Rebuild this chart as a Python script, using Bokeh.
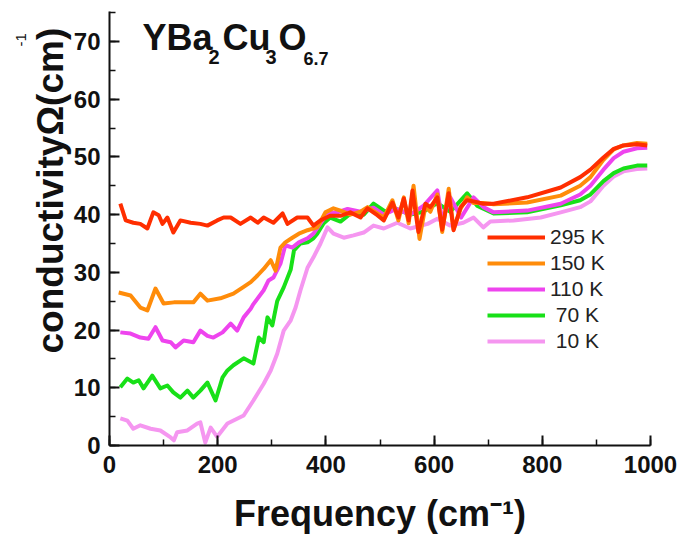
import math
from bokeh.plotting import figure
from bokeh.models import Range1d, Label, Legend, LegendItem, SingleIntervalTicker, Title
from bokeh.embed import file_html
from bokeh.resources import INLINE

# ---------------- data ----------------
freq_295 = [20, 30, 44, 57, 70, 81, 91, 98, 107, 118, 131, 150, 168, 181, 199, 211, 224, 242,
            261, 274, 285, 303, 320, 329, 347, 366, 377, 390, 408, 427, 445, 464, 477, 495,
            507, 523, 534, 544, 553, 560, 571, 584, 593, 606, 615, 627, 636, 649, 661, 673,
            691, 710, 772, 834, 870, 889, 913, 932, 950, 975, 994]
sigma_295 = [41.9, 39.0, 38.6, 38.4, 37.6, 40.4, 39.9, 38.4, 39.5, 36.9, 39.0, 38.6, 38.4, 38.1,
             39.0, 39.5, 39.5, 38.4, 39.5, 38.6, 39.5, 38.6, 40.2, 38.4, 39.5, 39.5, 38.1, 39.0,
             39.8, 39.8, 40.4, 39.5, 41.1, 39.9, 39.0, 42.1, 39.5, 42.8, 39.0, 44.2, 37.0, 41.9,
             41.3, 43.0, 37.4, 43.7, 37.3, 41.3, 42.5, 42.3, 41.9, 41.9, 43.0, 44.7, 46.5, 47.8,
             49.9, 51.4, 52.0, 52.2, 52.0]

freq_150 = [17, 39, 57, 70, 85, 100, 119, 137, 155, 168, 181, 205, 229, 248, 261, 274, 285, 298,
            307, 316, 325, 338, 350, 366, 384, 399, 414, 427, 445, 464, 477, 495, 507, 523, 534,
            544, 553, 562, 573, 584, 593, 606, 615, 627, 636, 649, 661, 673, 691, 710, 772, 834,
            870, 889, 913, 932, 950, 975, 994]
sigma_150 = [26.5, 26.0, 23.9, 23.4, 27.2, 24.6, 24.8, 24.8, 24.8, 26.3, 25.1, 25.5, 26.3, 27.5,
             28.3, 29.5, 30.6, 32.1, 30.3, 34.3, 35.2, 36.0, 36.7, 37.3, 37.8, 40.4, 41.1, 40.7,
             40.0, 40.5, 41.3, 40.2, 39.5, 42.5, 39.0, 43.0, 38.5, 45.0, 35.8, 41.5, 40.5, 43.5,
             37.0, 44.5, 37.5, 41.0, 43.0, 42.0, 42.0, 41.8, 42.1, 43.3, 45.0, 46.5, 49.5, 51.3,
             52.0, 52.4, 52.3]

freq_110 = [20, 39, 57, 72, 85, 98, 113, 122, 137, 155, 168, 181, 192, 209, 224, 236, 248, 261,
            266, 285, 294, 303, 316, 325, 338, 350, 366, 377, 390, 403, 421, 440, 464, 488, 507,
            530, 556, 580, 606, 615, 630, 650, 673, 691, 710, 772, 834, 870, 889, 913, 932, 950,
            975, 994]
sigma_110 = [19.6, 19.4, 18.7, 18.5, 20.5, 18.2, 17.9, 17.0, 18.2, 17.9, 19.9, 19.0, 18.7, 19.6,
             21.1, 19.9, 22.2, 23.7, 24.5, 26.9, 28.6, 29.1, 31.5, 34.7, 34.3, 35.2, 35.9, 36.7,
             38.5, 40.2, 40.4, 41.0, 40.5, 41.2, 40.0, 41.0, 40.0, 41.5, 44.2, 39.0, 43.0, 39.5,
             43.0, 41.3, 40.4, 40.7, 41.9, 43.5, 45.0, 47.8, 49.8, 50.9, 51.5, 51.6]

freq_70 = [20, 33, 44, 54, 63, 79, 94, 107, 118, 131, 144, 155, 168, 181, 196, 209, 218, 229,
           248, 266, 276, 285, 292, 301, 310, 322, 335, 341, 353, 366, 377, 384, 396, 408, 427,
           450, 470, 488, 510, 530, 556, 580, 606, 630, 661, 680, 710, 772, 834, 870, 889, 913,
           932, 950, 975, 994]
sigma_70 = [10.1, 11.6, 10.9, 11.3, 9.9, 12.1, 9.9, 10.4, 9.2, 8.3, 9.5, 8.3, 9.5, 10.9, 7.8,
            11.8, 13.0, 13.9, 15.1, 14.2, 18.7, 17.9, 22.2, 20.8, 25.0, 27.4, 30.5, 33.8, 35.0,
            35.2, 35.9, 36.7, 38.5, 39.5, 38.8, 40.5, 40.0, 41.9, 40.5, 41.0, 40.0, 40.5, 42.0,
            40.5, 43.7, 41.5, 40.2, 40.4, 41.6, 42.5, 43.5, 45.8, 47.2, 48.0, 48.5, 48.5]

freq_10 = [20, 33, 44, 57, 76, 94, 113, 119, 125, 144, 162, 168, 177, 187, 199, 218, 248, 266,
           285, 298, 310, 322, 335, 344, 353, 366, 377, 390, 403, 414, 433, 451, 470, 488, 507,
           532, 556, 588, 606, 630, 654, 673, 691, 704, 747, 797, 834, 870, 889, 913, 932, 950,
           975, 994]
sigma_10 = [4.7, 4.3, 2.9, 3.5, 2.9, 2.6, 1.4, 0.9, 2.3, 2.6, 3.8, 4.0, 0.5, 3.1, 1.5, 3.8, 5.2,
            7.8, 10.7, 13.0, 15.9, 19.9, 21.7, 23.9, 26.9, 30.8, 32.6, 35.0, 37.8, 36.7, 36.0,
            36.4, 36.9, 38.1, 37.6, 38.6, 37.6, 38.4, 39.3, 38.1, 38.6, 39.5, 37.8, 38.8, 39.0,
            39.5, 40.4, 41.3, 42.3, 45.0, 46.6, 47.5, 47.9, 48.0]

series_labels = ["295 K", "150 K", "110 K", "\u00a070 K", "\u00a010 K"]
x_ticks_interval = 200
y_ticks_interval = 10

# ---------------- figure ----------------
FONT = "Liberation Sans"
W, H = 685, 540
p = figure(width=W, height=H, output_backend="svg", toolbar_location=None,
           x_range=Range1d(0, 1000), y_range=Range1d(0, 75.2),
           min_border_left=109, min_border_right=35, min_border_top=11, min_border_bottom=95)
p.outline_line_color = None
p.xgrid.visible = False
p.ygrid.visible = False
p.background_fill_color = "white"
p.border_fill_color = "white"

for ax in (p.xaxis[0], p.yaxis[0]):
    ax.axis_line_width = 2
    ax.axis_line_color = "#111111"
    ax.major_tick_line_color = "#111111"
    ax.minor_tick_line_color = "#111111"
    ax.major_tick_line_width = 2
    ax.minor_tick_line_width = 1.5
    ax.major_tick_in = 10
    ax.major_tick_out = 0
    ax.minor_tick_in = 6
    ax.minor_tick_out = 0
    ax.major_label_text_font = FONT
    ax.major_label_text_font_style = "bold"
    ax.major_label_text_font_size = "24px"
    ax.major_label_text_color = "#111111"

p.xaxis[0].ticker = SingleIntervalTicker(interval=x_ticks_interval, num_minor_ticks=2)
p.yaxis[0].ticker = SingleIntervalTicker(interval=y_ticks_interval, num_minor_ticks=2)
p.xaxis[0].major_label_standoff = 10
p.yaxis[0].major_label_standoff = 9

# x axis title as the axis label (centred on the frame like the reference)
p.xaxis[0].axis_label = "Frequency (cm\u207b\u00b9)"
p.xaxis[0].axis_label_text_font = FONT
p.xaxis[0].axis_label_text_font_style = "bold"
p.xaxis[0].axis_label_text_font_size = "36px"
p.xaxis[0].axis_label_text_color = "#111111"
p.xaxis[0].axis_label_standoff = 17

colors = ["#FF2E00", "#FF8C0A", "#EE44EE", "#18E018", "#F596F0"]
widths = [4, 4, 4, 4, 4]
data = [(freq_295, sigma_295), (freq_150, sigma_150), (freq_110, sigma_110),
        (freq_70, sigma_70), (freq_10, sigma_10)]

renderers = [None] * 5
for i in [4, 3, 2, 1, 0]:
    fx, sy = data[i]
    renderers[i] = p.line(fx, sy, line_color=colors[i], line_width=widths[i], line_join="round")

legend = Legend(items=[LegendItem(label=series_labels[i], renderers=[renderers[i]]) for i in range(5)],
                location=(378, 92), orientation="vertical",
                border_line_alpha=0, background_fill_alpha=0, padding=0, margin=0,
                spacing=2, glyph_width=58, glyph_height=20, label_height=20, label_standoff=5,
                label_text_font=FONT, label_text_font_size="21px", label_text_color="#222222")
p.add_layout(legend)

# y axis title as side-panel titles (first added = nearest the frame)
ytitle = Title(text="conductivity\u03a9(cm)", align="left", offset=92, standoff=0,
               text_font=FONT, text_font_style="bold", text_font_size="37px", text_color="#111111")
p.add_layout(ytitle, "left")
ysup = Title(text="-1", align="left", offset=399, standoff=3,
             text_font=FONT, text_font_style="normal", text_font_size="15px", text_color="#111111")
p.add_layout(ysup, "left")

# helpers: convert reference pixel positions into data positions for in-frame labels
def dx(px):
    return (px - 109) / 0.541

def dy(py):
    return (445 - py) / 5.77

def lab(text, px, py, size, style="bold"):
    p.add_layout(Label(x=dx(px), y=dy(py), text=text, text_font=FONT, text_font_style=style,
                       text_font_size=size, text_align="left", text_baseline="middle",
                       text_color="#111111"))

# sample name YBa2Cu3O6.7 (y = vertical centre of the glyphs in the reference)
lab("YBa", 142, 37.5, "36px")
lab("2", 208, 57, "20px")
lab("Cu", 222, 37.5, "36px")
lab("3", 265, 57, "20px")
lab("O", 278, 37.5, "36px")
lab("6.7", 303, 58.5, "18px")

open("out.html", "w").write(file_html(p, INLINE))
